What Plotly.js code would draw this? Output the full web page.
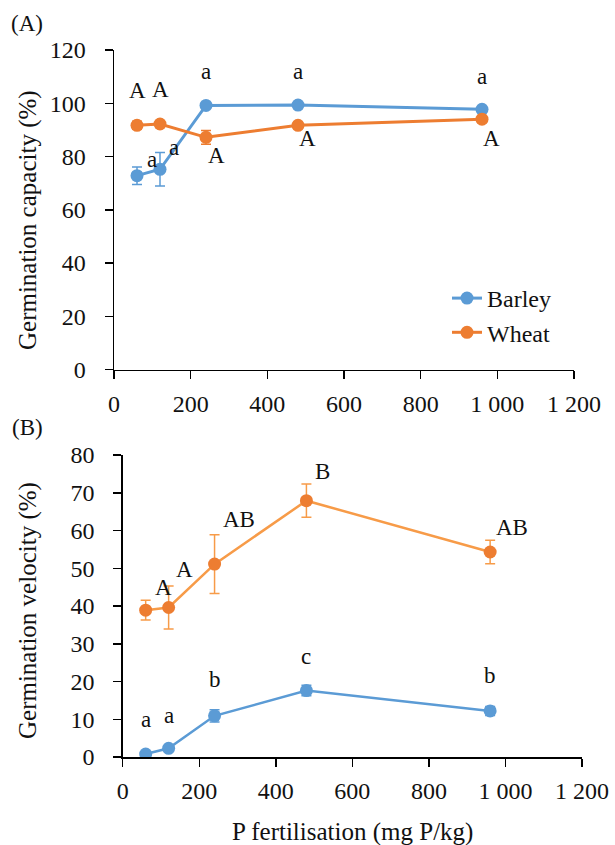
<!DOCTYPE html>
<html>
<head>
<meta charset="utf-8">
<script src="https://cdn.plot.ly/plotly-3.0.1.min.js"></script>
<style>html,body{margin:0;padding:0;background:#fff;}#chart{width:615px;height:845px;}</style>
</head>
<body>
<div id="chart"></div>
<script>
// ---- data ----
const pDose = [60, 120, 240, 480, 960];

const capBarley = [72.8, 75.2, 99.2, 99.3, 97.7];
const capBarleyErr = [3.3, 6.3, 0.8, 0.8, 0.8];
const capWheat = [91.7, 92.2, 87.2, 91.7, 94.0];
const capWheatErr = [1.5, 1.0, 2.6, 1.2, 1.2];
const capBarleyLetters = ["a", "a", "a", "a", "a"];
const capWheatLetters = ["A", "A", "A", "A", "A"];

const velBarley = [0.8, 2.3, 10.9, 17.6, 12.2];
const velBarleyErr = [0.5, 0.6, 1.6, 1.4, 1.2];
const velWheat = [38.9, 39.6, 51.1, 67.9, 54.3];
const velWheatErr = [2.6, 5.7, 7.8, 4.4, 3.1];
const velBarleyLetters = ["a", "a", "b", "c", "b"];
const velWheatLetters = ["A", "A", "AB", "B", "AB"];

const seriesNames = ["Barley", "Wheat"];
const xTickVals = [0, 200, 400, 600, 800, 1000, 1200];
const xTickText = ["0", "200", "400", "600", "800", "1 000", "1 200"];

// ---- style ----
const BLUE = "#5B9BD5";
const ORANGE = "#ED7D31";
const ORANGE_LIGHT = "#F79B48";
const FONT = "Liberation Serif";
const W = 615, H = 845;

// label pixel offsets (style, not data)
const capBarleyOff = [[15, 16], [14, 22], [0, 34], [0, 34], [0, 33]];
const capWheatOff = [[0, 35], [0, 35], [10, -18], [9, -13], [9, -19]];
const velBarleyOff = [[0, 34], [0, 33], [0, 36], [0, 34], [0, 35]];
const velWheatOff = [[18, 23], [16, 38], [24, 45], [16, 29], [22, 25]];

function tr(x, y, err, name, color, lineColor, lw, xa, ya, showlegend, group) {
  return {
    x: x, y: y, name: name, type: "scatter", mode: "lines+markers",
    xaxis: xa, yaxis: ya, showlegend: showlegend, legendgroup: group,
    line: {color: lineColor, width: lw},
    marker: {color: color, size: 13},
    error_y: {type: "data", array: err, visible: true, color: lineColor, thickness: 1.5, width: 5}
  };
}

const data = [
  tr(pDose, capBarley, capBarleyErr, seriesNames[0], BLUE, BLUE, 3, "x", "y", true, "g1"),
  tr(pDose, capWheat, capWheatErr, seriesNames[1], ORANGE, ORANGE, 3, "x", "y", true, "g2"),
  tr(pDose, velWheat, velWheatErr, seriesNames[1], ORANGE, ORANGE_LIGHT, 2.5, "x2", "y2", false, "g2"),
  tr(pDose, velBarley, velBarleyErr, seriesNames[0], BLUE, BLUE, 2.5, "x2", "y2", false, "g1")
];

const annotations = [];
function addLetters(xs, ys, letters, offs, xa, ya) {
  for (let i = 0; i < xs.length; i++) {
    annotations.push({
      x: xs[i], y: ys[i], xref: xa, yref: ya, text: letters[i], showarrow: false,
      xshift: offs[i][0], yshift: offs[i][1],
      font: {family: FONT, size: 23, color: "#111"}
    });
  }
}
addLetters(pDose, capBarley, capBarleyLetters, capBarleyOff, "x", "y");
addLetters(pDose, capWheat, capWheatLetters, capWheatOff, "x", "y");
addLetters(pDose, velBarley, velBarleyLetters, velBarleyOff, "x2", "y2");
addLetters(pDose, velWheat, velWheatLetters, velWheatOff, "x2", "y2");

function paperAnn(px, py, text, angle, size) {
  annotations.push({
    x: px / W, y: 1 - py / H, xref: "paper", yref: "paper", text: text,
    showarrow: false, textangle: angle || 0, xanchor: "center", yanchor: "middle",
    font: {family: FONT, size: size, color: "#111"}
  });
}
paperAnn(27, 24, "(A)", 0, 23);
paperAnn(27, 427, "(B)", 0, 23);
paperAnn(28, 220, "Germination capacity (%)", -90, 25);
paperAnn(28, 611, "Germination velocity (%)", -90, 25);
paperAnn(352, 832, "P fertilisation (mg P/kg)", 0, 25);

function xAxis(domain, anchor) {
  return {
    domain: domain, anchor: anchor, range: [0, 1200], tickvals: xTickVals, ticktext: xTickText,
    showgrid: false, zeroline: false, showline: true, linecolor: "#000", linewidth: 1.5,
    ticks: "outside", ticklen: 8, tickwidth: 1.5, tickcolor: "#000", ticklabelstandoff: 4,
    tickfont: {family: FONT, size: 24, color: "#111"}, fixedrange: true
  };
}
function yAxis(domain, anchor, range, dtick) {
  return {
    domain: domain, anchor: anchor, range: range, dtick: dtick, tick0: 0,
    showgrid: false, zeroline: false, showline: true, linecolor: "#000", linewidth: 1.5,
    ticks: "outside", ticklen: 8, tickwidth: 1.5, tickcolor: "#000", ticklabelstandoff: 14,
    tickfont: {family: FONT, size: 24, color: "#111"}, fixedrange: true
  };
}

const layout = {
  width: W, height: H,
  margin: {l: 0, r: 0, t: 0, b: 0},
  paper_bgcolor: "#fff", plot_bgcolor: "#fff",
  font: {family: FONT},
  showlegend: true,
  xaxis: xAxis([114 / W, 574 / W], "y"),
  yaxis: yAxis([1 - 369.5 / H, 1 - 50 / H], "x", [0, 120], 20),
  xaxis2: xAxis([122.7 / W, 582 / W], "y2"),
  yaxis2: yAxis([1 - 757 / H, 1 - 455 / H], "x2", [0, 80], 10),
  legend: {
    x: 447 / W, y: 1 - 276 / H, xanchor: "left", yanchor: "top",
    bgcolor: "rgba(0,0,0,0)", tracegroupgap: 0,
    font: {family: FONT, size: 24, color: "#111"}
  },
  annotations: annotations
};

Plotly.newPlot("chart", data, layout, {displayModeBar: false, staticPlot: true});
</script>
</body>
</html>
